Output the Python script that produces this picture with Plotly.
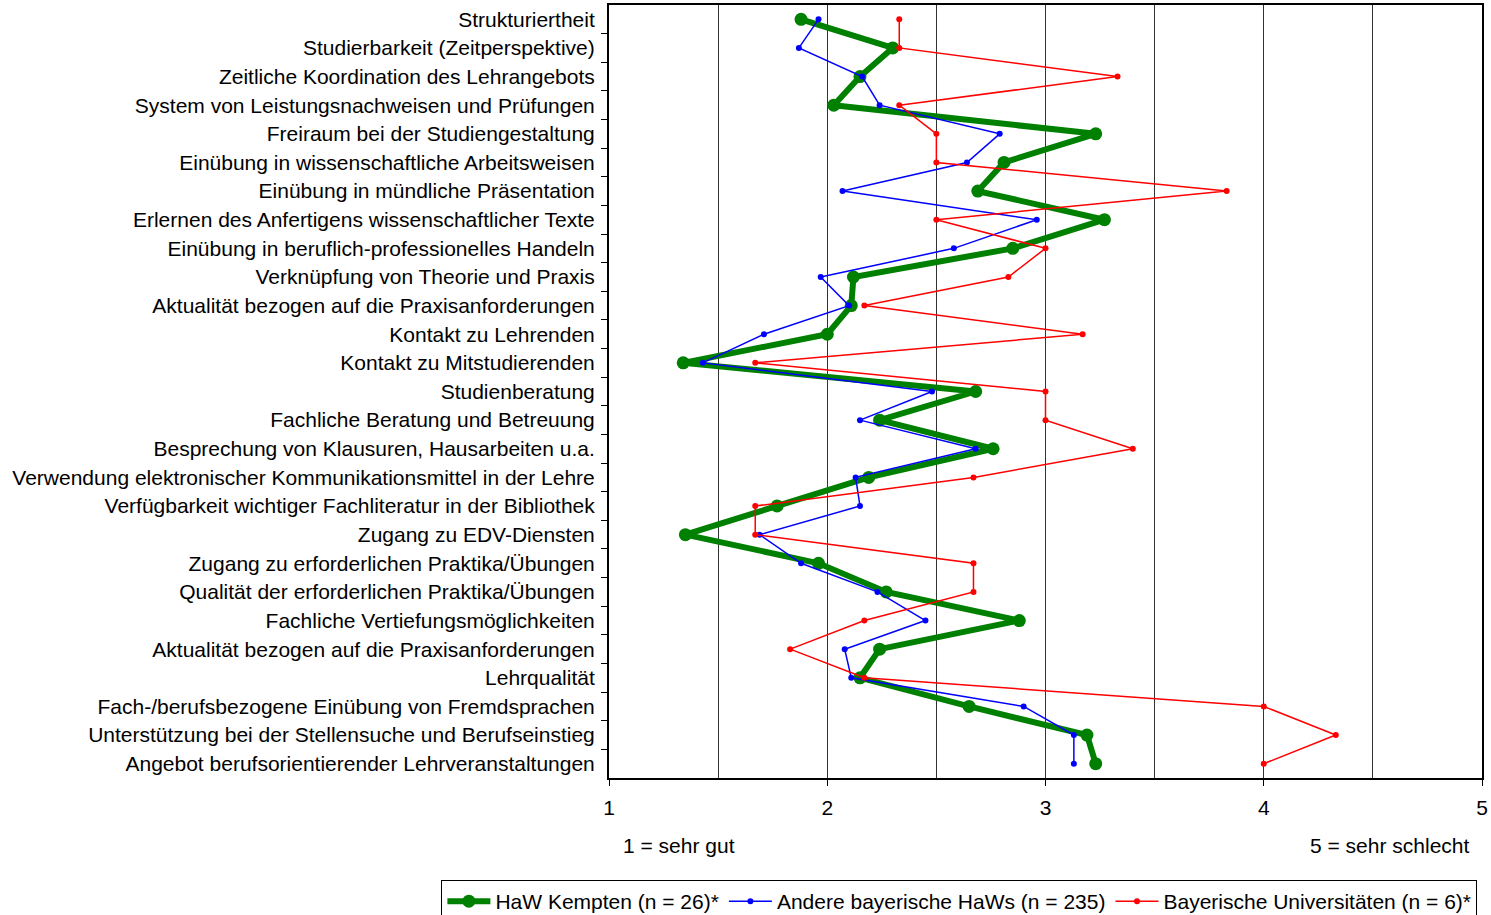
import plotly.graph_objects as go

categories = [
    "Strukturiertheit",
    "Studierbarkeit (Zeitperspektive)",
    "Zeitliche Koordination des Lehrangebots",
    "System von Leistungsnachweisen und Prüfungen",
    "Freiraum bei der Studiengestaltung",
    "Einübung in wissenschaftliche Arbeitsweisen",
    "Einübung in mündliche Präsentation",
    "Erlernen des Anfertigens wissenschaftlicher Texte",
    "Einübung in beruflich-professionelles Handeln",
    "Verknüpfung von Theorie und Praxis",
    "Aktualität bezogen auf die Praxisanforderungen",
    "Kontakt zu Lehrenden",
    "Kontakt zu Mitstudierenden",
    "Studienberatung",
    "Fachliche Beratung und Betreuung",
    "Besprechung von Klausuren, Hausarbeiten u.a.",
    "Verwendung elektronischer Kommunikationsmittel in der Lehre",
    "Verfügbarkeit wichtiger Fachliteratur in der Bibliothek",
    "Zugang zu EDV-Diensten",
    "Zugang zu erforderlichen Praktika/Übungen",
    "Qualität der erforderlichen Praktika/Übungen",
    "Fachliche Vertiefungsmöglichkeiten",
    "Aktualität bezogen auf die Praxisanforderungen",
    "Lehrqualität",
    "Fach-/berufsbezogene Einübung von Fremdsprachen",
    "Unterstützung bei der Stellensuche und Berufseinstieg",
    "Angebot berufsorientierender Lehrveranstaltungen",
]

kempten = [1.88, 2.30, 2.15, 2.03, 3.23, 2.81, 2.69, 3.27, 2.85, 2.12, 2.11, 2.00, 1.34,
           2.68, 2.24, 2.76, 2.19, 1.77, 1.35, 1.96, 2.27, 2.88, 2.24, 2.15, 2.65, 3.19, 3.23]
andere = [1.96, 1.87, 2.16, 2.24, 2.79, 2.64, 2.07, 2.96, 2.58, 1.97, 2.10, 1.71, 1.43,
          2.48, 2.15, 2.68, 2.13, 2.15, 1.69, 1.88, 2.23, 2.45, 2.08, 2.11, 2.90, 3.13, 3.13]
unis = [2.33, 2.33, 3.33, 2.33, 2.50, 2.50, 3.83, 2.50, 3.00, 2.83, 2.17, 3.17, 1.67,
        3.00, 3.00, 3.40, 2.67, 1.67, 1.67, 2.67, 2.67, 2.17, 1.83, 2.17, 4.00, 4.33, 4.00]

series_names = ["HaW Kempten (n = 26)*", "Andere bayerische HaWs (n = 235)",
                "Bayerische Universitäten (n = 6)*"]
x_ticks = [1, 2, 3, 4, 5]

rows = list(range(len(categories)))

fig = go.Figure()
fig.add_trace(go.Scatter(x=kempten, y=rows, mode="lines+markers", name=series_names[0],
                         line=dict(color="#008000", width=6),
                         marker=dict(color="#008000", size=13)))
fig.add_trace(go.Scatter(x=andere, y=rows, mode="lines+markers", name=series_names[1],
                         line=dict(color="#0000FF", width=1.5),
                         marker=dict(color="#0000FF", size=6)))
fig.add_trace(go.Scatter(x=unis, y=rows, mode="lines+markers", name=series_names[2],
                         line=dict(color="#FF0000", width=1.5),
                         marker=dict(color="#FF0000", size=6)))

font_family = "Liberation Sans, Arial, sans-serif"
fs = 21

fig.update_layout(
    width=1491, height=915,
    margin=dict(l=609, r=9, t=5, b=137, autoexpand=False),
    paper_bgcolor="white", plot_bgcolor="white",
    font=dict(family=font_family, size=fs, color="black"),
    showlegend=True,
    legend=dict(orientation="h", xref="paper", yref="paper",
                x=-0.192, xanchor="left", y=-0.132, yanchor="top",
                bordercolor="black", borderwidth=1, font=dict(size=fs, color="black"),
                itemwidth=43, tracegroupgap=0),
    xaxis=dict(range=[1, 5], tickvals=x_ticks, ticktext=[str(v) for v in x_ticks],
               showgrid=True, gridcolor="#333333", gridwidth=1,
               minor=dict(tickvals=[1.5, 2.5, 3.5, 4.5], showgrid=True,
                          gridcolor="#333333", gridwidth=1, ticks=""),
               ticks="outside", ticklen=6, tickcolor="black",
               showline=True, linecolor="black", linewidth=2, mirror=True,
               zeroline=False, tickfont=dict(size=fs), automargin=False,
               ticklabelstandoff=4, ticklabeloverflow="allow"),
    yaxis=dict(range=[len(categories) - 0.5, -0.5], tickvals=rows, ticktext=categories,
               showgrid=False, ticks="", zeroline=False,
               minor=dict(tickvals=[r + 0.5 for r in rows[:-1]], ticks="outside",
                          ticklen=6, tickcolor="black", showgrid=False),
               showline=True, linecolor="black", linewidth=2, mirror=True,
               tickfont=dict(size=fs), ticklabelstandoff=8, automargin=False),
    annotations=[
        dict(text="1 = sehr gut", x=1.32, y=-0.087, xref="x", yref="paper",
             yanchor="middle", showarrow=False, font=dict(size=fs)),
        dict(text="5 = sehr schlecht", x=4.58, y=-0.087, xref="x", yref="paper",
             yanchor="middle", showarrow=False, font=dict(size=fs)),
    ],
)

fig.write_html("out.html", config={"displayModeBar": False},
               post_script="document.body.style.margin='0';")
